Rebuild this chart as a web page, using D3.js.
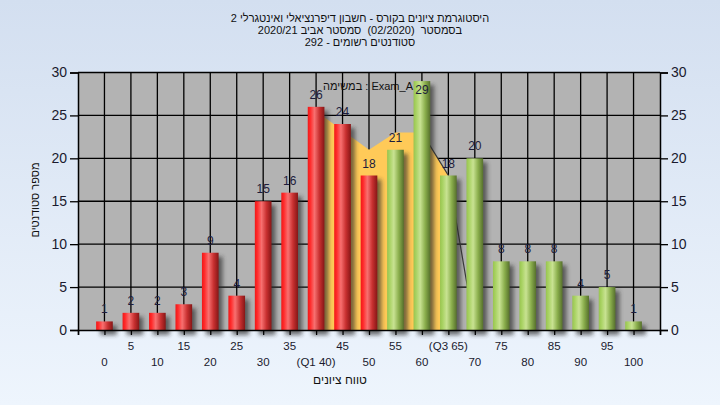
<!DOCTYPE html>
<html><head><meta charset="utf-8">
<script src="https://cdn.jsdelivr.net/npm/d3@7"></script>
<style>
html,body{margin:0;padding:0;overflow:hidden;background:#fff}
svg{display:block;font-family:"Liberation Sans","DejaVu Sans",Arial,sans-serif}
</style></head><body>
<script>
// ---- data ----
const categories = [0,5,10,15,20,25,30,35,40,45,50,55,60,65,70,75,80,85,90,95,100];
const counts     = [1,2,2,3,9,4,15,16,26,24,18,21,29,18,20,8,8,8,4,5,1];
const tickLabels = ["0","5","10","15","20","25","30","35","(Q1 40)","45","50","55","60","(Q3 65)","70","75","80","85","90","95","100"];
const yTicks = [0,5,10,15,20,25,30];
const areaX = [40,50,55,60,65];
const areaY = [25.5,21,23,23,18];
const tailX = [60,65,70];
const tailY = [23,18,0];
const greenFrom = 55;
const titleLines = [
  "היסטוגרמת ציונים בקורס - חשבון דיפרנציאלי ואינטגרלי 2",
  "בסמסטר  (02/2020)  סמסטר אביב 2020/21",
  "סטודנטים רשומים - 292"
];
const innerLabel = "במשימה : Exam_A";
const xTitle = "טווח ציונים";
const yTitle = "מספר סטודנטים";

// ---- layout ----
const W = 720, H = 405;
const L = 78, R = 660, T = 72.5, B = 330;

const svg = d3.select("body").append("svg").attr("width", W).attr("height", H);
const defs = svg.append("defs");

const bg = defs.append("linearGradient").attr("id","bg").attr("x1",0).attr("y1",0).attr("x2",0).attr("y2",1);
bg.append("stop").attr("offset","0%").attr("stop-color","#d3dff0");
bg.append("stop").attr("offset","100%").attr("stop-color","#eef5fd");

function cyl(id, stops){
  const g = defs.append("linearGradient").attr("id",id).attr("x1",0).attr("y1",0).attr("x2",1).attr("y2",0);
  stops.forEach(s=>g.append("stop").attr("offset",s[0]).attr("stop-color",s[1]));
}
cyl("red",[["0%","#f01818"],["15%","#ff2a2a"],["40%","#f87070"],["70%","#c83030"],["100%","#861616"]]);
cyl("green",[["0%","#98c450"],["15%","#a8d262"],["40%","#c8e292"],["70%","#8aae4c"],["100%","#56702c"]]);

const blur = defs.append("filter").attr("id","blur").attr("x","-50%").attr("y","-50%").attr("width","200%").attr("height","200%");
blur.append("feGaussianBlur").attr("stdDeviation",2);

svg.append("rect").attr("width",W).attr("height",H).attr("fill","url(#bg)");

const x = d3.scaleLinear().domain([-5,105]).range([L,R]);
const y = d3.scaleLinear().domain([0,30]).range([B,T]);
const step = x(5)-x(0);
const bw = step*0.63;

// plot background
svg.append("rect").attr("x",L).attr("y",T).attr("width",R-L).attr("height",B-T).attr("fill","#b3b3b3");

// grid
const grid = svg.append("g").attr("stroke","#000").attr("stroke-width",1.3);
grid.selectAll("line.v").data(categories).join("line")
  .attr("x1",d=>x(d)).attr("x2",d=>x(d)).attr("y1",T).attr("y2",B);
grid.selectAll("line.h").data(yTicks.filter(v=>v>0&&v<30)).join("line").attr("class","h")
  .attr("x1",L).attr("x2",R).attr("y1",d=>y(d)).attr("y2",d=>y(d));

// orange area
const areaPts = areaX.map((v,i)=>[v,areaY[i]]);
svg.append("path").datum(areaPts)
  .attr("d", d3.area().x(d=>x(d[0])).y0(y(0)).y1(d=>y(d[1])))
  .attr("fill","#ffca58");
svg.append("path").datum(tailX.map((v,i)=>[v,tailY[i]]))
  .attr("d", d3.line().x(d=>x(d[0])).y(d=>y(d[1])))
  .attr("fill","none").attr("stroke","#3a3a3a").attr("stroke-width",1.2);

// shadows
svg.append("g").selectAll("rect").data(categories).join("rect")
  .attr("x",(d)=>x(d)-bw/2+4).attr("y",(d,i)=>y(counts[i])+4)
  .attr("width",bw).attr("height",(d,i)=>y(0)-y(counts[i])+1)
  .attr("fill","#2a2a2a").attr("opacity",0.65).attr("filter","url(#blur)");

// bars
svg.append("g").selectAll("rect").data(categories).join("rect")
  .attr("x",d=>x(d)-bw/2).attr("y",(d,i)=>y(counts[i]))
  .attr("width",bw).attr("height",(d,i)=>y(0)-y(counts[i]))
  .attr("fill",d=>d>=greenFrom?"url(#green)":"url(#red)");

// plot frame (top border)
svg.append("line").attr("x1",L).attr("x2",R).attr("y1",T).attr("y2",T).attr("stroke","#000").attr("stroke-width",1.3);

// axes
const fmt = d3.format("d");
const yl = svg.append("g").attr("transform",`translate(${L},0)`)
  .call(d3.axisLeft(y).tickValues(yTicks).tickSize(8).tickPadding(3).tickFormat(fmt));
const yr = svg.append("g").attr("transform",`translate(${R},0)`)
  .call(d3.axisRight(y).tickValues(yTicks).tickSize(8).tickPadding(3).tickFormat(fmt));
[yl,yr].forEach(g=>{
  g.select(".domain").attr("stroke","#000").attr("stroke-width",1.5);
  g.selectAll(".tick line").attr("stroke","#000").attr("stroke-width",1.3);
  g.selectAll("text").attr("font-size",14).attr("fill","#1a1a2e").attr("font-family","Liberation Sans, Arial, sans-serif");
});
const xa = svg.append("g").attr("transform",`translate(0,${B})`)
  .call(d3.axisBottom(x).tickValues(d3.range(-5,106,5)).tickSize(5).tickFormat(""));
xa.select(".domain").attr("stroke","#000").attr("stroke-width",1.5);
xa.selectAll(".tick line").attr("stroke","#000").attr("stroke-width",1.3);

// x tick labels, staggered
svg.append("g").selectAll("text").data(categories).join("text")
  .attr("x",d=>x(d)).attr("y",(d,i)=> i%2===1 ? 349.5 : 366)
  .attr("text-anchor","middle").attr("font-size",11.5).attr("fill","#1a1a2e")
  .text((d,i)=>tickLabels[i]);

// value labels
svg.append("g").selectAll("text").data(categories).join("text")
  .attr("x",d=>x(d)).attr("y",(d,i)=>Math.max(y(counts[i])-8, 94))
  .attr("text-anchor","middle").attr("font-size",12).attr("fill","#1c1c3c")
  .text((d,i)=>counts[i]);

// titles
svg.append("g").selectAll("text").data(titleLines).join("text")
  .attr("x",360).attr("y",(d,i)=>22+i*12.2)
  .attr("text-anchor","middle").attr("direction","rtl").attr("font-size",11).attr("fill","#111")
  .style("white-space","pre")
  .text(d=>d);

svg.append("text").attr("x",368).attr("y",90).attr("text-anchor","middle")
  .attr("font-size",11).attr("fill","#111").attr("direction","ltr").text(innerLabel);

svg.append("text").attr("x",340).attr("y",384).attr("text-anchor","middle").attr("direction","rtl")
  .attr("font-size",12).attr("fill","#111").text(xTitle);

svg.append("text").attr("transform","translate(39,200) rotate(-90)").attr("text-anchor","middle").attr("direction","rtl")
  .attr("font-size",11).attr("fill","#111").text(yTitle);
</script>
</body></html>
